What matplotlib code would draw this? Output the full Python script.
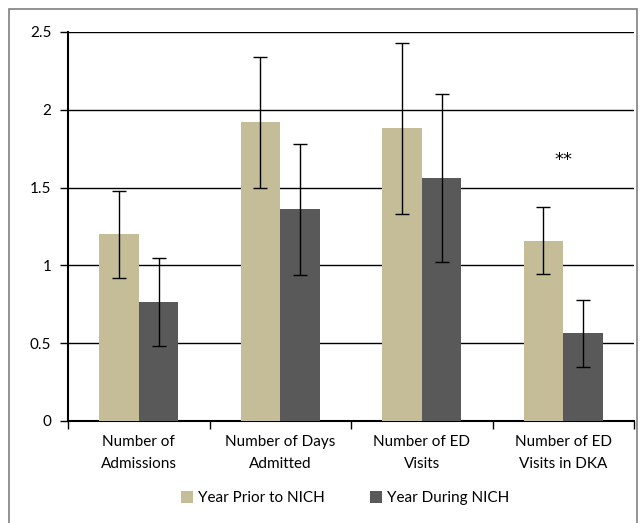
import matplotlib
matplotlib.use("Agg")
import matplotlib.pyplot as plt
import numpy as np
from matplotlib.patches import Rectangle

categories = ["Number of\nAdmissions", "Number of Days\nAdmitted", "Number of ED\nVisits", "Number of ED\nVisits in DKA"]
prior = [1.20, 1.92, 1.88, 1.16]
prior_err = [0.28, 0.42, 0.55, 0.215]
during = [0.765, 1.36, 1.56, 0.565]
during_err = [0.28, 0.42, 0.54, 0.215]
series_names = ["Year Prior to NICH", "Year During NICH"]
yticks = [0, 0.5, 1, 1.5, 2, 2.5]
ytick_labels = ["0", "0.5", "1", "1.5", "2", "2.5"]

plt.rcParams['font.family'] = ['Lato', 'DejaVu Sans']
plt.rcParams['font.size'] = 11

W, H = 644, 523
fig = plt.figure(figsize=(W/100, H/100), dpi=100)
ax = fig.add_axes([68/W, 1-421/H, (634-68)/W, (421-32)/H])

x = np.arange(len(categories))
w = 0.28
ax.bar(x - w/2, prior, w, color="#C4BD97", label=series_names[0], zorder=3,
       yerr=prior_err, error_kw=dict(ecolor="black", capsize=5, elinewidth=1, capthick=1))
ax.bar(x + w/2, during, w, color="#595959", label=series_names[1], zorder=3,
       yerr=during_err, error_kw=dict(ecolor="black", capsize=5, elinewidth=1, capthick=1))

ax.set_xlim(-0.5, len(categories) - 0.5)
ax.set_ylim(0, 2.5)
ax.set_yticks(yticks)
ax.set_yticklabels(ytick_labels)
ax.yaxis.grid(True, color="black", linewidth=1, zorder=0)
ax.set_axisbelow(True)
ax.tick_params(axis='y', length=6, width=1, color="black", pad=6)
ax.set_xticks(x)
ax.set_xticklabels(categories, linespacing=1.7)
ax.set_xticks(np.arange(len(categories) + 1) - 0.5, minor=True)
ax.tick_params(axis='x', which='major', length=0, pad=10)
ax.tick_params(axis='x', which='minor', length=6, width=1, direction='out')
for s in ["top", "right"]:
    ax.spines[s].set_visible(False)
ax.spines["left"].set_linewidth(1.5)
ax.spines["bottom"].set_linewidth(1.5)

ax.text(x[3], 1.68, "**", ha="center", va="center", fontsize=13, family="DejaVu Sans")

fig.legend(loc="center", bbox_to_anchor=(345/W, 1-498/H), ncol=2, frameon=False,
           handlelength=0.8, handleheight=0.8, handletextpad=0.3, columnspacing=3)

fig.patches.append(Rectangle((9/W, -0.05), (637-9)/W, 1.05 - 9/H, transform=fig.transFigure,
                             fill=False, edgecolor="#808080", linewidth=1.2))

fig.savefig("out.png", dpi=100)
